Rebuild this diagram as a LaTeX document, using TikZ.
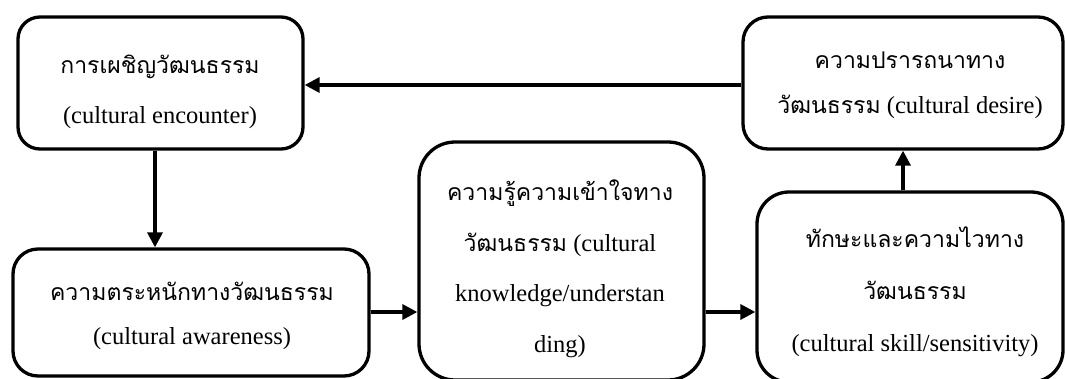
\documentclass[tikz,border=0pt]{standalone}
\usepackage{fontspec}
\setmainfont{Liberation Serif}
\newfontfamily\thaifont[Script=Thai,Scale=0.94]{Loma}
\newcommand\tht[1]{{\thaifont #1}}
\usetikzlibrary{arrows.meta}
\tikzset{
  box/.style={draw, line width=3.3pt, inner sep=0pt},
  txt/.style={align=center, inner sep=0pt, font=\fontsize{24.5}{50}\selectfont},
  arr/.style={line width=3.3pt, -{Triangle[length=15pt,width=15pt]}}
}
\begin{document}
\begin{tikzpicture}[x=1pt,y=-1pt]
\useasboundingbox (0,0) rectangle (1065,378);
% rounded boxes
\node[box, rounded corners=22pt, minimum width=285pt, minimum height=132pt] (b1) at (160.5,83) {};
\node[box, rounded corners=25pt, minimum width=320pt, minimum height=132pt] (b2) at (903,83) {};
\node[box, rounded corners=25pt, minimum width=356pt, minimum height=127pt] (b3) at (191,312.5) {};
\node[box, rounded corners=36pt, minimum width=285pt, minimum height=238pt] (b4) at (561.5,261) {};
\node[box, rounded corners=32pt, minimum width=306pt, minimum height=190pt] (b5) at (910,287) {};
% box texts
\node[txt] (t1) at (160,92) {\tht{การเผชิญวัฒนธรรม}\\(cultural encounter)};
\node[txt, font=\fontsize{24.5}{45}\selectfont] (t2) at (910,85) {\tht{ความปรารถนาทาง}\\\tht{วัฒนธรรม} (cultural desire)};
\node[txt, font=\fontsize{24.5}{44}\selectfont] (t3) at (192,316) {\tht{ความตระหนักทางวัฒนธรรม}\\(cultural awareness)};
\node[txt, font=\fontsize{24.5}{50.5}\selectfont] (t4) at (560,269) {\tht{ความรู้ความเข้าใจทาง}\\\tht{วัฒนธรรม} (cultural\\knowledge/understan\\ding)};
\node[txt, font=\fontsize{24.5}{52}\selectfont] (t5) at (915,292) {\tht{ทักษะและความไวทาง}\\\tht{วัฒนธรรม}\\(cultural skill/sensitivity)};
% connector guides
\coordinate (xa) at (155,0);
\coordinate (xb) at (903,0);
\coordinate (ya) at (0,85);
\coordinate (yb) at (0,312);
% connectors
\draw[arr] (b1.south -| xa) -- (b3.north -| xa);
\draw[arr] (b2.west |- ya) -- (b1.east |- ya);
\draw[arr] (b3.east |- yb) -- (b4.west |- yb);
\draw[arr] (b4.east |- yb) -- (b5.west |- yb);
\draw[arr] (b5.north -| xb) -- (b2.south -| xb);
\end{tikzpicture}
\end{document}
